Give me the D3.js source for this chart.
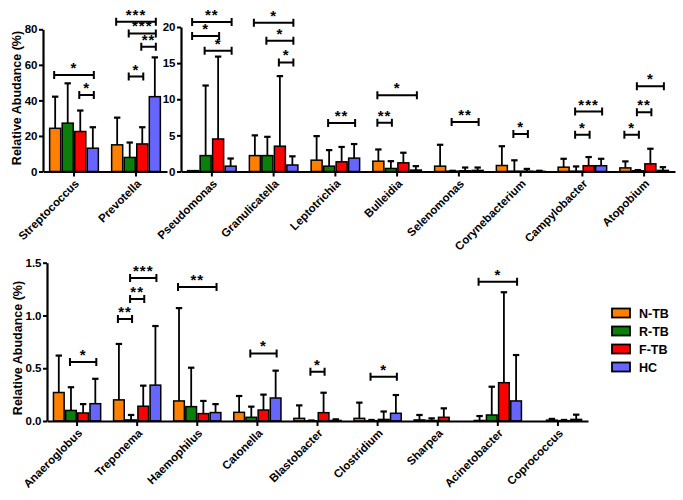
<!DOCTYPE html>
<html><head><meta charset="utf-8">
<script src="https://cdn.jsdelivr.net/npm/d3@7"></script>
<style>
html,body{margin:0;padding:0;background:#fff;}
svg{display:block;}
text{font-family:"Liberation Sans",Arial,sans-serif;font-weight:bold;}
</style></head>
<body><svg id="c" width="683" height="500"></svg>
<script>
const seriesNames = ['N-TB','R-TB','F-TB','HC'];
const seriesColors = ['#FF8000','#0A800A','#FF0000','#6666FF'];

// Panel 1 (top-left)
const p1Categories = ['Streptococcus','Prevotella'];
const p1Means = [[24.3,27.2,22.5,13.1],[15.0,7.9,15.5,42.1]];
const p1Upper = [[42.1,49.6,34.3,24.9],[30.3,16.3,24.9,64.2]];
const p1Ticks = [0,20,40,60,80];
const p1Brackets = [[0,0,3,54.3,'*'],[0,2,3,43,'*'],[1,0,3,84.3,'***'],[1,1,3,77.7,'***'],[1,2,3,70.2,'**'],[1,1,2,53.4,'*']];

// Panel 2 (top-right)
const p2Categories = ['Pseudomonas','Granulicatella','Leptotrichia','Bulleidia','Selenomonas','Corynebacterium','Campylobacter','Atopobium'];
const p2Means = [[0.12,2.2,4.5,0.74],[2.2,2.2,3.5,0.9],[1.57,0.74,1.34,1.85],[1.43,0.42,1.2,0.2],[0.74,0.05,0.1,0.15],[0.83,0.05,0.05,0.02],[0.6,0.05,0.8,0.8],[0.5,0.1,1.06,0.15]];
const p2Upper = [[0.12,11.9,15.9,1.8],[5.0,4.8,13.2,2.1],[4.9,2.96,3.4,3.8],[3.05,1.43,2.6,0.74],[3.7,0.1,0.55,0.55],[3.5,1.55,0.36,0.1],[1.76,0.7,2.0,1.76],[1.4,0.2,3.15,0.6]];
const p2Ticks = [0,5,10,15,20];
const p2Brackets = [[0,0,3,20.7,'**'],[0,0,2,18.75,'*'],[0,1,3,16.7,'*'],[1,0,3,20.6,'*'],[1,1,3,18.1,'*'],[1,2,3,15.1,'*'],[2,1,3,6.7,'**'],[3,0,1,6.75,'**'],[3,0,3,10.55,'*'],[4,1,3,6.85,'**'],[5,1,2,5.2,'*'],[6,1,2,5.1,'*'],[6,1,3,8.3,'***'],[7,0,1,5.1,'*'],[7,1,2,8.2,'**'],[7,1,3,11.8,'*']];

// Panel 3 (bottom)
const p3Categories = ['Anaeroglobus','Treponema','Haemophilus','Catonella','Blastobacter','Clostridium','Sharpea','Acinetobacter','Coprococcus'];
const p3Means = [[0.27,0.10,0.076,0.164],[0.2,0.01,0.14,0.34],[0.19,0.136,0.07,0.08],[0.082,0.035,0.104,0.218],[0.025,0.002,0.079,0.005],[0.025,0.003,0.015,0.073],[0.01,0.005,0.035,0],[0.005,0.057,0.363,0.19],[0,0.008,0.003,0.015]];
const p3Upper = [[0.62,0.32,0.16,0.40],[0.73,0.057,0.335,0.9],[1.07,0.505,0.19,0.16],[0.237,0.136,0.25,0.477],[0.148,0.005,0.268,0.016],[0.174,0.01,0.09,0.246],[0.057,0.025,0.12,0],[0.047,0.325,1.22,0.625],[0,0.02,0.01,0.06]];
const p3Ticks = [0,0.5,1.0,1.5];
const p3Brackets = [[0,1,3,0.56,'*'],[1,0,1,0.966,'**'],[1,1,2,1.155,'**'],[1,1,3,1.354,'***'],[2,0,3,1.27,'**'],[3,1,3,0.64,'*'],[4,1,2,0.467,'*'],[5,1,3,0.42,'*'],[7,0,3,1.32,'*']];

const yLabel = 'Relative Abudance (%)';

const svg = d3.select('#c');

function panel(cfg){
  const g = svg.append('g');
  const x = d3.scaleBand().domain(cfg.cats).range(cfg.xr).paddingInner(0.19).paddingOuter(0.095);
  const xs = d3.scaleBand().domain(seriesNames).range([0, x.bandwidth()]).padding(0);
  const y = d3.scaleLinear().domain(cfg.yd).range(cfg.yr);
  const color = d3.scaleOrdinal().domain(seriesNames).range(seriesColors);

  const rows = [];
  cfg.cats.forEach((c,i)=>seriesNames.forEach((s,j)=>rows.push({c, s, m:cfg.means[i][j], u:cfg.upper[i][j]})));

  // error bars
  const eb = g.append('g').attr('stroke','#000').attr('stroke-width',1.8).attr('fill','none');
  rows.forEach(r=>{
    const cx = x(r.c)+xs(r.s)+xs.bandwidth()/2;
    if (r.u > r.m) {
      eb.append('line').attr('x1',cx).attr('x2',cx).attr('y1',y(r.m)).attr('y2',y(r.u));
      eb.append('line').attr('x1',cx-3.2).attr('x2',cx+3.2).attr('y1',y(r.u)).attr('y2',y(r.u)).attr('stroke-width',2.2);
    }
  });
  // bars
  g.append('g').selectAll('rect').data(rows).join('rect')
    .attr('x',d=>x(d.c)+xs(d.s)+0.75)
    .attr('width',xs.bandwidth()-1.5)
    .attr('y',d=>y(d.m))
    .attr('height',d=>Math.max(0,y(0)-y(d.m)))
    .attr('fill',d=>color(d.s))
    .attr('stroke','#000').attr('stroke-width',1.5);

  // y axis
  const ya = g.append('g').attr('transform',`translate(${cfg.xr[0]},0)`)
    .call(d3.axisLeft(y).tickValues(cfg.ticks).tickSize(4).tickSizeOuter(0).tickPadding(1.5).tickFormat(cfg.fmt));
  ya.select('.domain').attr('stroke-width',2.2);
  ya.selectAll('.tick line').attr('stroke-width',2);
  ya.selectAll('.tick text').attr('font-size',11.5).attr('font-family','"Liberation Sans",Arial,sans-serif').attr('font-weight','bold').attr('fill','#000');

  // x axis
  const xa = g.append('g').attr('transform',`translate(0,${y(0)})`)
    .call(d3.axisBottom(x).tickSize(5).tickSizeOuter(0).tickFormat(''));
  xa.select('.domain').attr('stroke-width',2.2);
  xa.selectAll('.tick line').attr('stroke-width',2);
  xa.selectAll('.tick').append('text')
    .attr('transform','translate(3,10) rotate(-45)')
    .attr('text-anchor','end').attr('dy','0.35em')
    .attr('font-size',11.5).attr('fill','#000')
    .text(d=>d);

  // significance brackets
  const bg = g.append('g');
  cfg.brackets.forEach(b=>{
    const c = cfg.cats[b[0]];
    const x1 = x(c)+xs(seriesNames[b[1]])+xs.bandwidth()/2 - 1;
    const x2 = x(c)+xs(seriesNames[b[2]])+xs.bandwidth()/2 + 1;
    const yy = y(b[3]);
    bg.append('path').attr('d',`M${x1},${yy-4}V${yy+4}M${x1},${yy}H${x2}M${x2},${yy-4}V${yy+4}`)
      .attr('stroke','#000').attr('stroke-width',2).attr('fill','none');
    bg.append('text').attr('x',(x1+x2)/2).attr('y',yy-2).attr('text-anchor','middle')
      .attr('font-size',15).attr('letter-spacing','1px').attr('fill','#000').text(b[4]);
  });
  // y label
  if (cfg.label) {
    g.append('text').attr('transform',`translate(${cfg.label[0]},${cfg.label[1]}) rotate(-90)`)
      .attr('text-anchor','middle').attr('font-size',12.5).attr('fill','#000').text(yLabel);
  }
}

panel({cats:p1Categories, means:p1Means, upper:p1Upper, ticks:p1Ticks, brackets:p1Brackets,
  xr:[43,167], yd:[0,80], yr:[171.5,29.3], fmt:d3.format('d'), label:[21,98]});
panel({cats:p2Categories, means:p2Means, upper:p2Upper, ticks:p2Ticks, brackets:p2Brackets,
  xr:[181,675], yd:[0,20], yr:[171.5,27], fmt:d3.format('d')});
panel({cats:p3Categories, means:p3Means, upper:p3Upper, ticks:p3Ticks, brackets:p3Brackets,
  xr:[47,588], yd:[0,1.5], yr:[421,262.7], fmt:d3.format('.1f'), label:[22,348]});

// legend
const lg = svg.append('g');
seriesNames.forEach((s,i)=>{
  const yy = 313 + i*18;
  lg.append('rect').attr('x',612).attr('y',yy-4.5).attr('width',18).attr('height',9)
    .attr('fill',seriesColors[i]).attr('stroke','#000').attr('stroke-width',1.8);
  lg.append('text').attr('x',639).attr('y',yy).attr('dy','0.36em').attr('font-size',12.5).attr('fill','#000').text(s);
});
</script></body></html>
